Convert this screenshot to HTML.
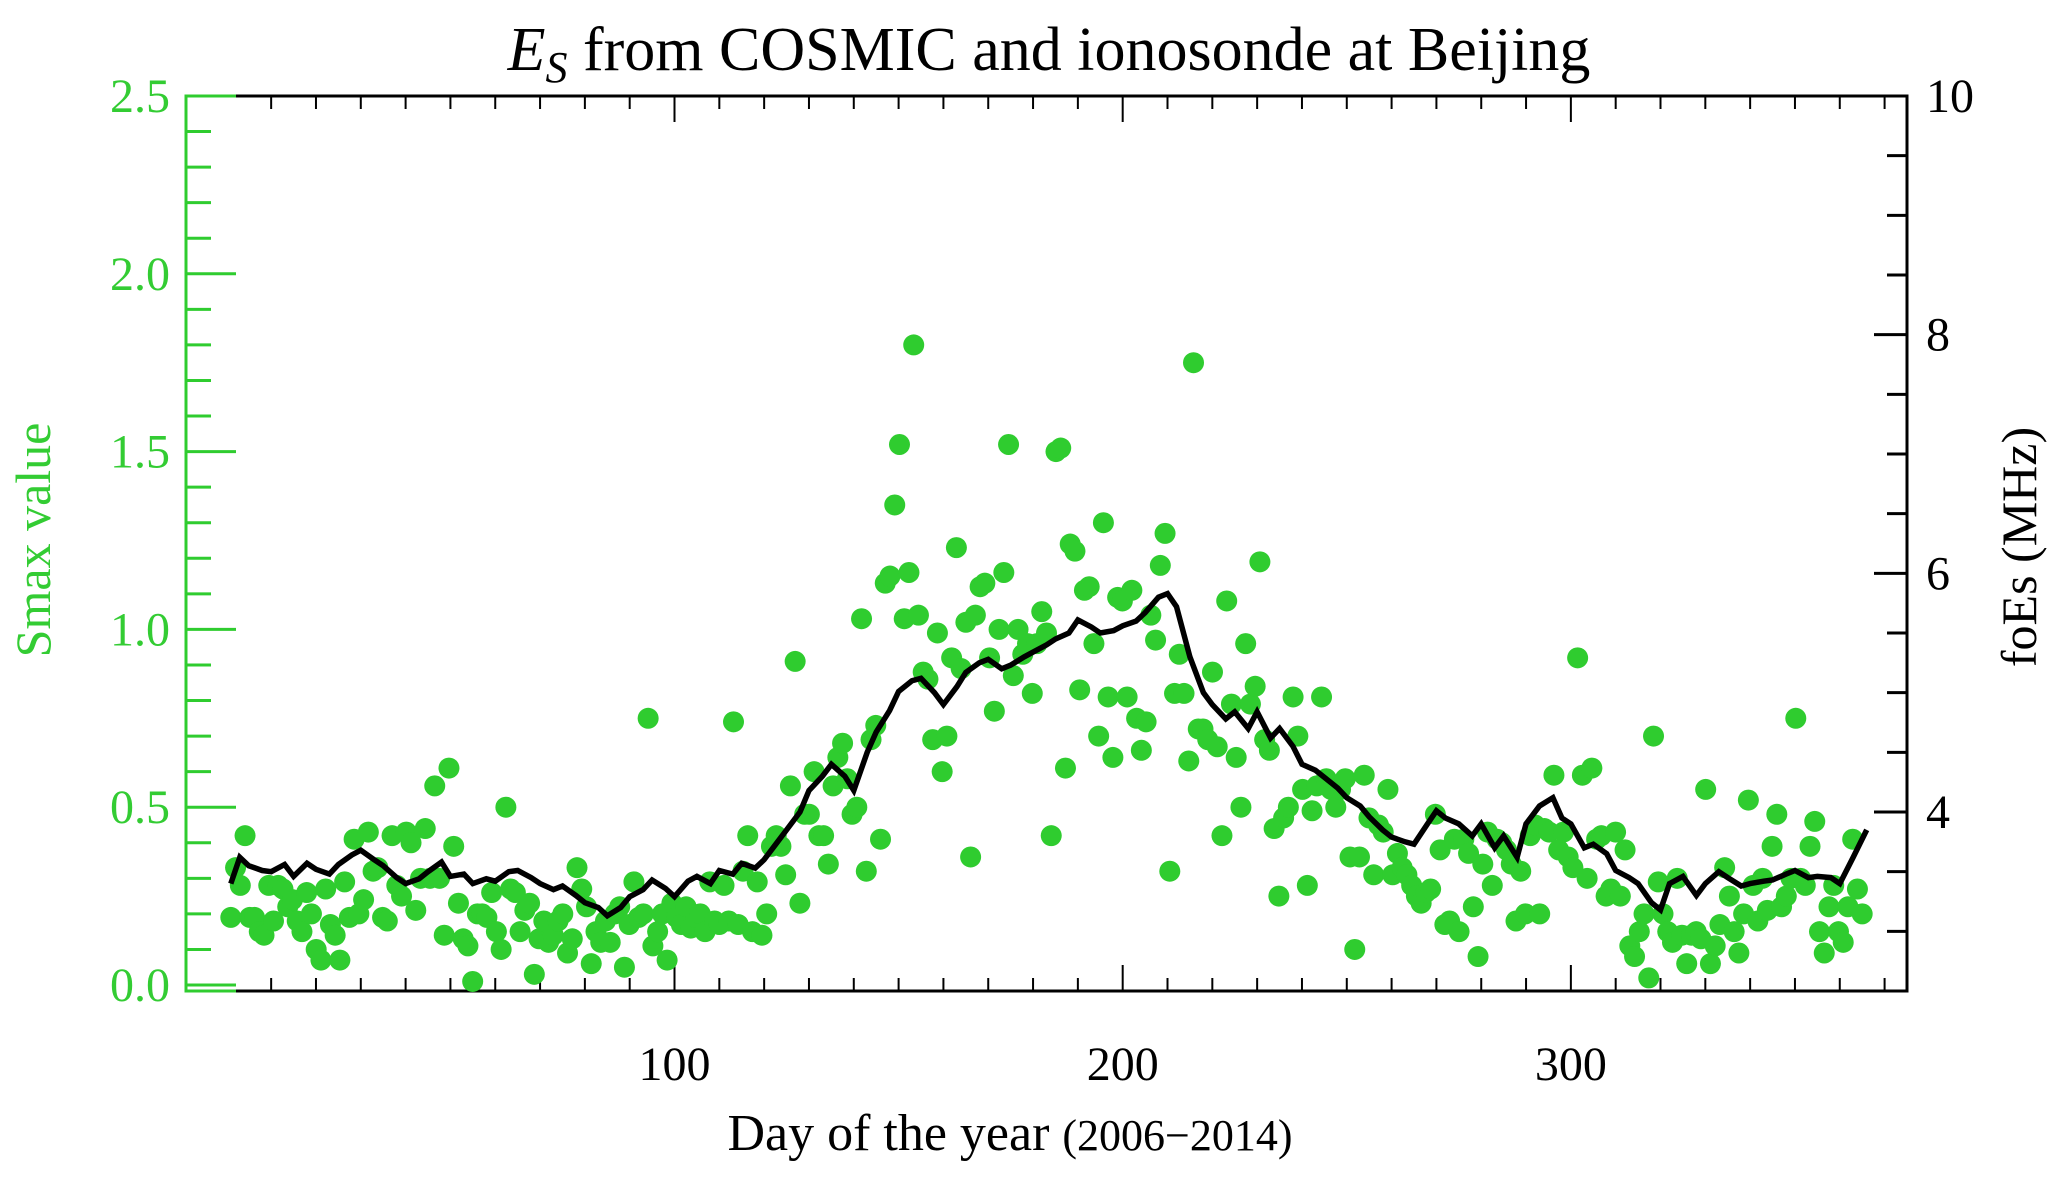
<!DOCTYPE html>
<html><head><meta charset="utf-8"><style>
html,body{margin:0;padding:0;background:#fff;}
svg{display:block;font-family:"Liberation Serif",serif;}
</style></head><body>
<svg id="chart" width="2067" height="1178" viewBox="0 0 2067 1178" xmlns="http://www.w3.org/2000/svg">
<text x="1049" y="70" font-size="62" text-anchor="middle" fill="#000"><tspan font-style="italic">E</tspan><tspan font-style="italic" font-size="44" dy="12">S</tspan><tspan dy="-12"> from COSMIC and ionosonde at Beijing</tspan></text>
<g id="plot"></g>
<text x="1010" y="1150" font-size="52" text-anchor="middle" fill="#000">Day of the year <tspan font-size="44">(2006−2014)</tspan></text>
<text transform="translate(50,540) rotate(-90)" font-size="50" text-anchor="middle" fill="#33cc33">Smax value</text>
<text transform="translate(2036,547) rotate(-90)" font-size="50" text-anchor="middle" fill="#000">foEs (MHz)</text>
</svg>
<script>
const xTicks=[100,200,300];
const smaxTicks=[0.0,0.5,1.0,1.5,2.0,2.5];
const foesTicks=[4,6,8,10];
const smax=[0.19,0.33,0.28,0.42,0.19,0.19,0.15,0.14,0.28,0.18,0.28,0.27,0.22,0.24,0.18,0.15,0.26,0.20,0.10,0.07,0.27,0.17,0.14,0.07,0.29,0.19,0.41,0.20,0.24,0.43,0.32,0.33,0.19,0.18,0.42,0.28,0.25,0.43,0.40,0.21,0.30,0.44,0.30,0.56,0.30,0.14,0.61,0.39,0.23,0.13,0.11,0.01,0.20,0.20,0.19,0.26,0.15,0.10,0.50,0.27,0.26,0.15,0.21,0.23,0.03,0.13,0.18,0.12,0.14,0.18,0.20,0.09,0.13,0.33,0.27,0.22,0.06,0.15,0.12,0.18,0.12,0.20,0.22,0.05,0.17,0.29,0.19,0.20,0.75,0.11,0.15,0.20,0.07,0.23,0.19,0.17,0.22,0.16,0.19,0.20,0.15,0.29,0.18,0.17,0.28,0.18,0.74,0.17,0.32,0.42,0.15,0.29,0.14,0.20,0.39,0.42,0.39,0.31,0.56,0.91,0.23,0.48,0.48,0.60,0.42,0.42,0.34,0.56,0.64,0.68,0.58,0.48,0.50,1.03,0.32,0.69,0.73,0.41,1.13,1.15,1.35,1.52,1.03,1.16,1.80,1.04,0.88,0.86,0.69,0.99,0.60,0.70,0.92,1.23,0.89,1.02,0.36,1.04,1.12,1.13,0.92,0.77,1.00,1.16,1.52,0.87,1.00,0.93,0.96,0.82,0.96,1.05,0.99,0.42,1.50,1.51,0.61,1.24,1.22,0.83,1.11,1.12,0.96,0.70,1.30,0.81,0.64,1.09,1.08,0.81,1.11,0.75,0.66,0.74,1.04,0.97,1.18,1.27,0.32,0.82,0.93,0.82,0.63,1.75,0.72,0.72,0.69,0.88,0.67,0.42,1.08,0.79,0.64,0.50,0.96,0.79,0.84,1.19,0.69,0.66,0.44,0.25,0.47,0.50,0.81,0.70,0.55,0.28,0.49,0.56,0.81,0.58,0.55,0.50,0.55,0.58,0.36,0.10,0.36,0.59,0.47,0.31,0.45,0.43,0.55,0.31,0.37,0.33,0.31,0.28,0.25,0.23,0.26,0.27,0.48,0.38,0.17,0.18,0.41,0.15,0.41,0.37,0.22,0.08,0.34,0.43,0.28,0.41,0.40,0.38,0.34,0.18,0.32,0.20,0.42,0.45,0.20,0.44,0.43,0.59,0.38,0.43,0.36,0.33,0.92,0.59,0.30,0.61,0.41,0.42,0.25,0.27,0.43,0.25,0.38,0.11,0.08,0.15,0.20,0.02,0.70,0.29,0.20,0.15,0.12,0.30,0.14,0.06,0.14,0.15,0.13,0.55,0.06,0.11,0.17,0.33,0.25,0.15,0.09,0.20,0.52,0.28,0.18,0.30,0.21,0.39,0.48,0.22,0.25,0.30,0.75,0.30,0.28,0.39,0.46,0.15,0.09,0.22,0.28,0.15,0.12,0.22,0.41,0.27,0.20];
const lineDays=[1,3,5,8,10,13,15,18,20,23,25,28,30,33,35,38,40,43,45,48,50,53,55,58,60,63,65,68,70,73,75,78,80,83,85,88,90,93,95,98,100,103,105,108,110,113,115,118,120,123,125,128,130,133,135,138,140,143,145,148,150,153,155,158,160,163,165,168,170,173,175,178,180,183,185,188,190,193,195,198,200,203,205,208,210,212,215,218,220,223,225,228,230,233,235,238,240,243,245,248,250,253,255,258,260,263,265,268,270,272,275,278,280,283,285,288,290,293,296,298,300,303,305,308,310,313,315,318,320,322,325,328,330,333,335,338,340,343,345,348,350,353,355,358,360,363,366];
const foes=[3.40,3.62,3.55,3.51,3.50,3.56,3.46,3.57,3.52,3.48,3.56,3.64,3.68,3.60,3.55,3.45,3.40,3.44,3.50,3.58,3.46,3.48,3.40,3.44,3.42,3.50,3.51,3.45,3.40,3.35,3.38,3.30,3.24,3.20,3.13,3.20,3.29,3.35,3.43,3.36,3.29,3.42,3.46,3.40,3.51,3.48,3.57,3.53,3.60,3.75,3.85,4.00,4.18,4.30,4.40,4.30,4.18,4.50,4.67,4.85,5.01,5.10,5.12,5.00,4.90,5.05,5.17,5.25,5.28,5.20,5.23,5.30,5.34,5.40,5.45,5.50,5.61,5.55,5.50,5.52,5.56,5.60,5.67,5.80,5.83,5.72,5.30,5.00,4.90,4.78,4.84,4.70,4.84,4.62,4.70,4.55,4.40,4.35,4.29,4.20,4.12,4.05,3.96,3.85,3.79,3.75,3.73,3.90,4.01,3.95,3.90,3.80,3.90,3.70,3.80,3.62,3.90,4.05,4.12,3.95,3.90,3.70,3.73,3.65,3.51,3.45,3.40,3.24,3.18,3.40,3.46,3.30,3.40,3.50,3.45,3.38,3.40,3.42,3.43,3.48,3.51,3.45,3.46,3.45,3.40,3.62,3.85];

const NS="http://www.w3.org/2000/svg";
const plot=document.getElementById('plot');
const L=186,R=1907,T=96,B=991;
const xMin=-9,xMax=375;
const X=d=>L+(d-xMin)*(R-L)/(xMax-xMin);
const YS=v=>985-v*(985-T)/2.5;
const YF=f=>B-(f-2.5)*(B-T)/7.5;
const GREEN='#2fcc2f';
function mk(tag,attrs){const e=document.createElementNS(NS,tag);for(const k in attrs)e.setAttribute(k,attrs[k]);plot.appendChild(e);return e;}
function ln(x1,y1,x2,y2,c,w){return mk('line',{x1,y1,x2,y2,stroke:c,'stroke-width':w});}

let e;
e=ln(L,B,R+1.5,B,'#000',3);


e=ln(L,T,R+1.5,T,'#000',3);


e=ln(R,T,R,B+1.5,'#000',3);


e=ln(L,T-1.5,L,B+1.5,GREEN,3);


ln(L,T,L+50,T,GREEN,3);ln(L,B,L+50,B,GREEN,3);

for(let d=10;d<=370;d+=10){const maj=d%100===0;const len=maj?26:13;
 e=ln(X(d),B,X(d),B-len,'#000',2);
 
 
 ln(X(d),T,X(d),T+len,'#000',2);}
xTicks.forEach(t=>{e=mk('text',{x:X(t),y:1080,'font-size':48,'text-anchor':'middle',fill:'#000'});e.textContent=t;
 
 });
for(let i=0;i<=25;i++){const v=i/10;const maj=i%5===0;
 e=ln(L,YS(v),L+(maj?50:25),YS(v),GREEN,3);
 
 }
smaxTicks.forEach(t=>{e=mk('text',{x:170,y:YS(t)+16,'font-size':48,'text-anchor':'end',fill:'#33cc33'});e.textContent=t.toFixed(1);
 
 });
for(let f=3;f<=10;f+=0.5){const maj=Math.abs(f-Math.round(f))<1e-6&&Math.round(f)%2===0;
 e=ln(R,YF(f),R-(maj?33:20),YF(f),'#000',3);
 
 }
foesTicks.forEach(t=>{e=mk('text',{x:1926,y:YF(t)+16,'font-size':48,'text-anchor':'start',fill:'#000'});e.textContent=t;
 
 });

const n=smax.length;
smax.forEach((v,i)=>{const d=1+i*(365-1)/(n-1);
 const c=mk('circle',{cx:X(d),cy:YS(v),r:10.5,fill:GREEN});
 
 });
const pts=lineDays.map((d,i)=>X(d).toFixed(1)+','+YF(foes[i]).toFixed(1)).join(' ');
const pl=mk('polyline',{points:pts,fill:'none',stroke:'#000','stroke-width':5.5,'stroke-linejoin':'miter'});


</script>
</body></html>
